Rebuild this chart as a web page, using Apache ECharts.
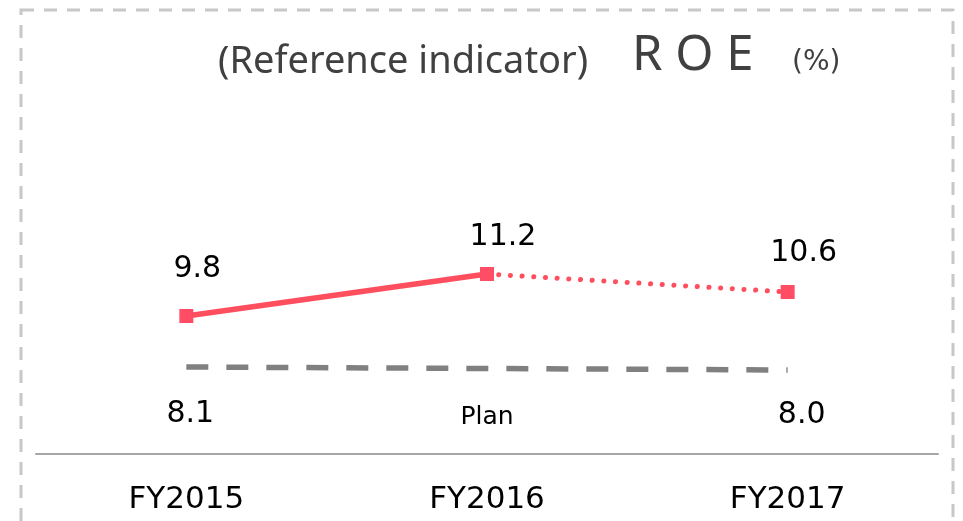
<!DOCTYPE html>
<head>
    <meta charset="utf-8">
    <title>ROE</title>
    <script type="text/javascript" src="https://cdn.jsdelivr.net/npm/echarts@6/dist/echarts.min.js"></script>
    <style>
        html, body { margin: 0; padding: 0; background: #fff; }
    </style>
</head>
<body>
    <div id="main" style="width:963px;height:521px"></div>

    <script type="text/javascript">
     // data
     var categories = ['FY2015', 'FY2016', 'FY2017'];
     var roeActual = [9.8, 11.2, null];     // solid part
     var roeForecast = [null, 11.2, 10.6];  // dotted part
     var roePlan = [8.1, null, 8.0];        // dashed plan line

     var red = '#ff4f5e';
     var numFont = 'DejaVu Sans';

     function fmt(p) { return p.value.toFixed(1); }

     // label offsets (from the point centre) per point
     var actualOffsets = [[11, -47], [16, -37], null];
     var forecastOffsets = [null, null, [16, -39]];
     var planOffsets = [[4, 47], null, [14, 45]];

     function items(values, offsets) {
         return values.map(function (v, i) {
             if (v == null) return '-';
             var show = offsets[i] != null;
             return {
                 value: v,
                 label: { show: show, offset: show ? offsets[i] : [0, 0] }
             };
         });
     }

     var labelBase = {
         position: 'inside',
         color: '#000',
         fontFamily: numFont,
         fontSize: 30,
         formatter: fmt
     };

     var myChart = echarts.init(document.getElementById('main'));
     myChart.setOption({
         animation: false,
         grid: { left: 36, right: 25, top: 94, bottom: 67 },
         xAxis: {
             type: 'category',
             data: categories,
             boundaryGap: true,
             axisLine: { lineStyle: { color: '#a6a6a6', width: 2 } },
             axisTick: { show: false },
             axisLabel: { color: '#000', fontFamily: numFont, fontSize: 31, margin: 30 }
         },
         yAxis: {
             type: 'value',
             min: 5.2,
             max: 17.2,
             show: false,
             splitLine: { show: false }
         },
         graphic: [
             {
                 type: 'rect',
                 shape: { x: 21, y: 10, width: 932, height: 600 },
                 style: { fill: 'none', stroke: '#c8c8c8', lineWidth: 3, lineDash: [13, 10] },
                 silent: true
             },
             {
                 type: 'text', x: 218, y: 62,
                 style: { text: '(Reference indicator)', fill: '#404040', font: '38px "Noto Sans"', verticalAlign: 'middle' }
             },
             {
                 type: 'text', x: 632, y: 56,
                 style: { text: 'R O E', fill: '#404040', font: '49px "Noto Sans"', verticalAlign: 'middle' }
             },
             {
                 type: 'text', x: 792, y: 63,
                 style: { text: '(%)', fill: '#404040', font: '28px "DejaVu Sans"', verticalAlign: 'middle' }
             },
             {
                 type: 'text', x: 487, y: 417,
                 style: { text: 'Plan', fill: '#000', font: '25px "DejaVu Sans"', align: 'center', verticalAlign: 'middle' }
             }
         ],
         series: [
             {
                 name: 'Plan',
                 type: 'line',
                 data: items(roePlan, planOffsets),
                 connectNulls: true,
                 symbol: 'circle',
                 symbolSize: 1,
                 showSymbol: true,
                 itemStyle: { color: 'rgba(0,0,0,0)' },
                 lineStyle: { color: '#808080', width: 5.5, type: [22, 18] },
                 label: labelBase,
                 z: 2
             },
             {
                 name: 'ROE forecast',
                 type: 'line',
                 data: items(roeForecast, forecastOffsets),
                 symbol: 'rect',
                 symbolSize: 14,
                 itemStyle: { color: '#ff4d66' },
                 lineStyle: { color: red, width: 5, type: [0.1, 11.6], cap: 'round' },
                 label: labelBase,
                 z: 3
             },
             {
                 name: 'ROE',
                 type: 'line',
                 data: items(roeActual, actualOffsets),
                 symbol: 'rect',
                 symbolSize: 14,
                 itemStyle: { color: '#ff4d66' },
                 lineStyle: { color: red, width: 5.5 },
                 label: labelBase,
                 z: 4
             }
         ]
     });
    </script>
</body>
